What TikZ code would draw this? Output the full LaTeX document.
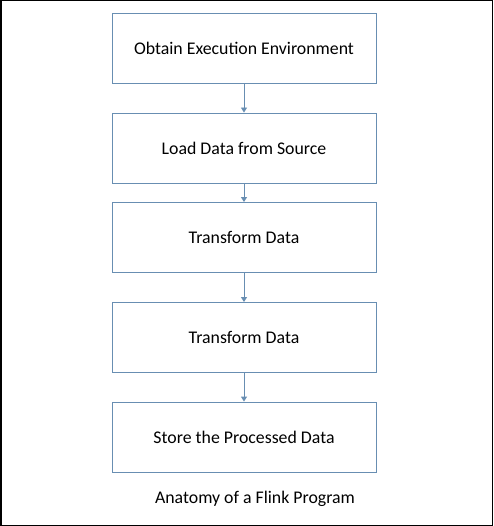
\documentclass[tikz,border=0pt]{standalone}
\usepackage{fontspec}
\setmainfont{Carlito}
\usepackage{tikz}
\usetikzlibrary{positioning,arrows.meta}
\definecolor{boxblue}{RGB}{104,142,178}

\begin{document}
\begin{tikzpicture}[x=1pt,y=1pt]
	\tikzset{stage/.style={rectangle, draw=boxblue, line width=0.9pt, minimum width=264pt, minimum height=70pt, inner sep=0, font=\fontsize{17.8}{20}\selectfont},
		flow/.style={draw=boxblue, line width=0.9pt, -{Triangle[length=5pt,width=6pt]}}}
	\draw[line width=1.5pt] (0.75,-0.75) rectangle (492.25,-525.25);
	\useasboundingbox (0,0) rectangle (493,-526);
	\node[stage] at(244,-48) (s1) {Obtain Execution Environment};
	\node[stage] at(244,-148) (s2) {Load Data from Source};
	\node[stage] at(244,-237.5) (s3) {Transform Data};
	\node[stage] at(244,-337.5) (s4) {Transform Data};
	\node[stage] at(244,-437) (s5) {Store the Processed Data};
	\node[font=\fontsize{17.8}{20}\selectfont] at(255,-499) (title) {Anatomy of a Flink Program};
	\path
		(s1.south) edge[flow] (s2.north)
		(s2.south) edge[flow] (s3.north)
		(s3.south) edge[flow] (s4.north)
		(s4.south) edge[flow] (s5.north);
\end{tikzpicture}
\end{document}
